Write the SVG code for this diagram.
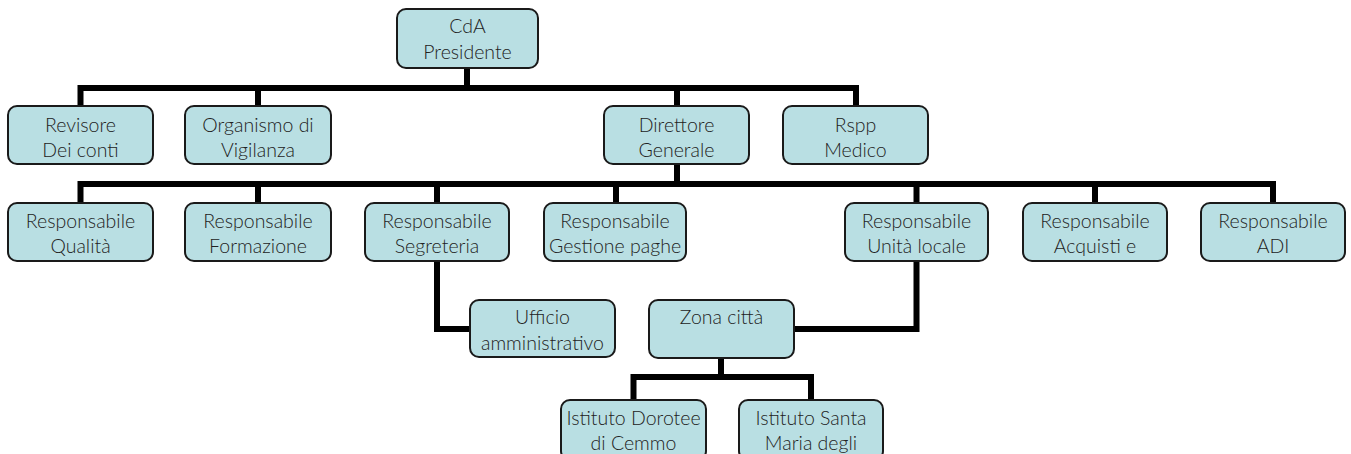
<svg xmlns="http://www.w3.org/2000/svg" width="1351" height="454" viewBox="0 0 1351 454">
<style>
.box{fill:#b9dfe3;stroke:#1a1a1a;stroke-width:2}
.t{font-family:Lato,"Liberation Sans",sans-serif;font-size:19.5px;font-weight:300;fill:#222;text-anchor:middle}
.c{fill:none;stroke:#000;stroke-width:6;stroke-linejoin:miter;stroke-linecap:butt}
</style>
<rect width="1351" height="454" fill="#fff"/>
<g id="connectors">
<path class="c" d="M467,68 V88"/>
<path class="c" d="M80.5,106 V88 H856 V106"/>
<path class="c" d="M258,88 V106"/>
<path class="c" d="M677,88 V106"/>
<path class="c" d="M677,164 V184"/>
<path class="c" d="M80.5,203 V184 H1273 V203"/>
<path class="c" d="M258,184 V203"/>
<path class="c" d="M437,184 V203"/>
<path class="c" d="M616,184 V203"/>
<path class="c" d="M916.5,184 V203"/>
<path class="c" d="M1095,184 V203"/>
<path class="c" d="M437,261 V329 H470"/>
<path class="c" d="M916.5,261 V329 H794"/>
<path class="c" d="M721,358 V377"/>
<path class="c" d="M633.5,400 V377 H811 V400"/>
</g>
<g id="n-cda"><rect class="box" x="397" y="9" width="141" height="59" rx="9"/><text class="t" x="467.5" y="33">CdA</text><text class="t" x="467.5" y="59">Presidente</text></g>
<g id="n-revisore"><rect class="box" x="8" y="106" width="145" height="58" rx="9"/><text class="t" x="80.5" y="132">Revisore</text><text class="t" x="80.5" y="157">Dei conti</text></g>
<g id="n-organismo"><rect class="box" x="185" y="106" width="146" height="58" rx="9"/><text class="t" x="258" y="132">Organismo di</text><text class="t" x="258" y="157">Vigilanza</text></g>
<g id="n-direttore"><rect class="box" x="604" y="106" width="145" height="58" rx="9"/><text class="t" x="676.5" y="132">Direttore</text><text class="t" x="676.5" y="157">Generale</text></g>
<g id="n-rspp"><rect class="box" x="783" y="106" width="145" height="58" rx="9"/><text class="t" x="855.5" y="132">Rspp</text><text class="t" x="855.5" y="157">Medico</text></g>
<g id="n-qualita"><rect class="box" x="8" y="203" width="145" height="58" rx="9"/><text class="t" x="80.5" y="228">Responsabile</text><text class="t" x="80.5" y="253">Qualità</text></g>
<g id="n-formazione"><rect class="box" x="185" y="203" width="146" height="58" rx="9"/><text class="t" x="258" y="228">Responsabile</text><text class="t" x="258" y="253">Formazione</text></g>
<g id="n-segreteria"><rect class="box" x="365" y="203" width="144" height="58" rx="9"/><text class="t" x="437" y="228">Responsabile</text><text class="t" x="437" y="253">Segreteria</text></g>
<g id="n-paghe"><rect class="box" x="544" y="203" width="142" height="58" rx="9"/><text class="t" x="615" y="228">Responsabile</text><text class="t" x="615" y="253">Gestione paghe</text></g>
<g id="n-unita"><rect class="box" x="845" y="203" width="143" height="58" rx="9"/><text class="t" x="916.5" y="228">Responsabile</text><text class="t" x="916.5" y="253">Unità locale</text></g>
<g id="n-acquisti"><rect class="box" x="1023" y="203" width="144" height="58" rx="9"/><text class="t" x="1095" y="228">Responsabile</text><text class="t" x="1095" y="253">Acquisti e</text></g>
<g id="n-adi"><rect class="box" x="1201" y="203" width="144" height="58" rx="9"/><text class="t" x="1273" y="228">Responsabile</text><text class="t" x="1273" y="253">ADI</text></g>
<g id="n-ufficio"><rect class="box" x="470" y="300" width="145" height="57" rx="9"/><text class="t" x="542.5" y="324">Ufficio</text><text class="t" x="542.5" y="350">amministrativo</text></g>
<g id="n-zona"><rect class="box" x="649" y="300" width="145" height="58" rx="9"/><text class="t" x="721.5" y="324">Zona città</text></g>
<g id="n-dorotee"><rect class="box" x="561" y="400" width="145" height="60" rx="9"/><text class="t" x="633.5" y="425">Istituto Dorotee</text><text class="t" x="633.5" y="450">di Cemmo</text></g>
<g id="n-santa"><rect class="box" x="739" y="400" width="144" height="60" rx="9"/><text class="t" x="811" y="425">Istituto Santa</text><text class="t" x="811" y="450">Maria degli</text></g>
</svg>
